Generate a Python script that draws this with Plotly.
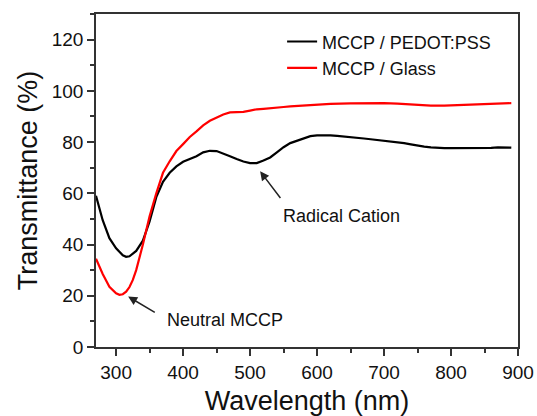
import plotly.graph_objects as go

# Wavelength (nm)
wl_pedot = [270, 280, 290, 300, 310, 315, 320, 330, 340, 350, 360, 370, 380, 390, 400,
            410, 420, 430, 440, 450, 460, 470, 480, 490, 500, 510, 520, 530, 540, 550,
            560, 570, 580, 590, 600, 610, 620, 630, 640, 650, 660, 670, 680, 690, 700,
            710, 720, 730, 740, 750, 760, 770, 780, 790, 800, 810, 820, 830, 840, 850,
            860, 870, 880, 890]
t_pedot = [59, 49.5, 42.5, 38.5, 35.8, 35.2, 35.4, 37.5, 41.5, 49, 58.5, 64.5, 68, 70.5, 72.3,
           73.3, 74.5, 76, 76.6, 76.5, 75.6, 74.5, 73.4, 72.4, 71.8, 71.8, 72.8, 74, 76, 78,
           79.6, 80.6, 81.6, 82.3, 82.6, 82.7, 82.6, 82.4, 82.2, 82, 81.7, 81.4, 81.1, 80.8, 80.6,
           80.3, 80, 79.6, 79.1, 78.6, 78.2, 77.9, 77.7, 77.6, 77.6, 77.6, 77.7, 77.7, 77.8, 77.8,
           77.7, 77.9, 77.8, 77.8]

wl_glass = [270, 280, 290, 300, 305, 310, 315, 320, 325, 330, 340, 350, 360, 370, 380,
            390, 400, 410, 420, 430, 440, 450, 460, 470, 480, 490, 500, 510, 520, 530,
            540, 550, 560, 580, 600, 620, 650, 680, 700, 720, 750, 770, 790, 810, 830,
            850, 870, 890]
t_glass = [34.5, 28.5, 23.5, 21, 20.4, 20.6, 21.6, 23.4, 26.2, 30, 40, 51, 60, 68, 72.5,
           76.5, 79.2, 82, 84.2, 86.5, 88.3, 89.6, 90.8, 91.6, 91.6, 91.8, 92.3, 92.8, 93, 93.3,
           93.5, 93.7, 93.9, 94.3, 94.7, 94.9, 95.1, 95.3, 95.2, 95, 94.5, 94.2, 94.2, 94.4, 94.7,
           94.9, 95.1, 95.2]

x_ticks = [300, 400, 500, 600, 700, 800, 900]
y_ticks = [0, 20, 40, 60, 80, 100, 120]

FONT = "Liberation Sans, Arial, sans-serif"
AX = "#333333"

fig = go.Figure()
fig.add_trace(go.Scatter(x=wl_pedot, y=t_pedot, mode="lines", name="MCCP / PEDOT:PSS",
                         line=dict(color="black", width=2.2)))
fig.add_trace(go.Scatter(x=wl_glass, y=t_glass, mode="lines", name="MCCP / Glass",
                         line=dict(color="#ff0000", width=2.2)))

axis_common = dict(showline=True, linecolor=AX, linewidth=1.5, mirror=True,
                   showgrid=False, zeroline=False, ticks="outside", ticklen=7,
                   tickwidth=1.5, tickcolor=AX, automargin=False,
                   tickfont=dict(family=FONT, size=19, color="#111111"))

fig.update_xaxes(range=[270, 900], tickvals=x_ticks,
                 minor=dict(ticks="outside", dtick=50, ticklen=4, tickcolor=AX, tickwidth=1.5),
                 title=dict(text="Wavelength (nm)", font=dict(family=FONT, size=27, color="#111111"),
                            standoff=13),
                 **axis_common)
fig.update_yaxes(range=[0, 130], tickvals=y_ticks,
                 minor=dict(ticks="outside", dtick=10, ticklen=4, tickcolor=AX, tickwidth=1.5),
                 title=dict(text="Transmittance (%)", font=dict(family=FONT, size=27, color="#111111"),
                            standoff=6),
                 **axis_common)

fig.add_annotation(x=318, y=19.7, ax=360, ay=13.2, axref="x", ayref="y", xref="x", yref="y",
                   text="", showarrow=True, arrowhead=2, arrowsize=1.2, arrowwidth=1.5,
                   arrowcolor="#222222")
fig.add_annotation(x=373, y=10.6, xref="x", yref="y", text="Neutral MCCP", showarrow=False,
                   xanchor="left", yanchor="middle",
                   font=dict(family=FONT, size=18, color="#111111"))
fig.add_annotation(x=515, y=68.6, ax=547, ay=57.6, axref="x", ayref="y", xref="x", yref="y",
                   text="", showarrow=True, arrowhead=2, arrowsize=1.2, arrowwidth=1.5,
                   arrowcolor="#222222")
fig.add_annotation(x=546, y=51, xref="x", yref="y", text="Radical Cation", showarrow=False,
                   xanchor="left", yanchor="middle",
                   font=dict(family=FONT, size=18, color="#111111"))

fig.update_layout(
    width=537, height=416,
    margin=dict(l=96, r=19, t=14, b=69),
    paper_bgcolor="white", plot_bgcolor="white",
    showlegend=True,
    legend=dict(x=0.441, y=0.972, xanchor="left", yanchor="top",
                bgcolor="rgba(0,0,0,0)", borderwidth=0,
                font=dict(family=FONT, size=18, color="#111111"),
                tracegroupgap=0),
)

# remove the page's default 8px body margin so the figure fills the window exactly
fig.write_html("out.html", config={"displayModeBar": False},
               post_script="document.body.style.margin='0';document.body.style.overflow='hidden';")
